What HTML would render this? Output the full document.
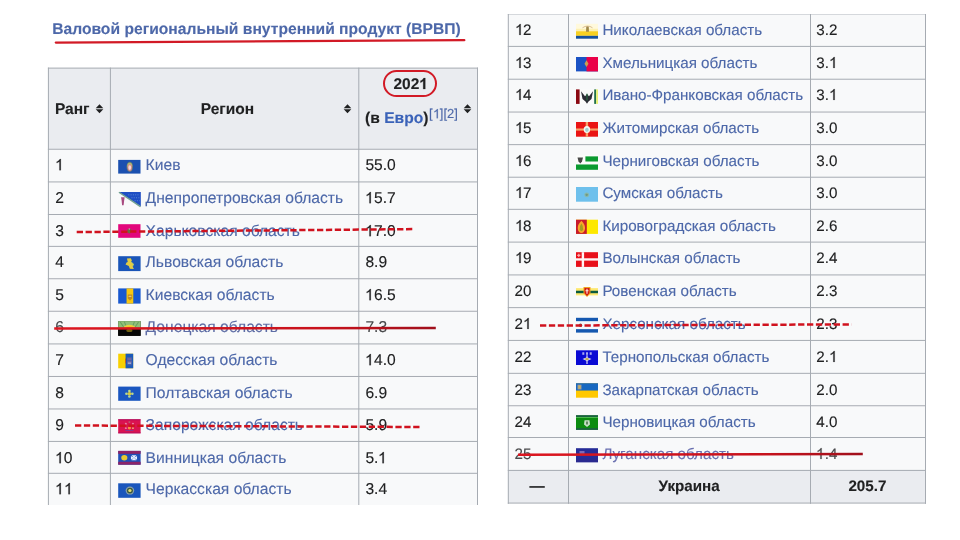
<!DOCTYPE html>
<html><head><meta charset="utf-8"><style>
html,body{margin:0;padding:0;background:#fff;}
body{width:960px;height:540px;position:relative;overflow:hidden;font-family:"Liberation Sans",sans-serif;}
body>div{position:absolute;}
.t{white-space:nowrap;text-rendering:geometricPrecision;-webkit-text-stroke:0.12px currentColor;}
.o1{width:0.5562em;height:0.7158em;vertical-align:baseline;fill:currentColor;stroke:currentColor;stroke-width:26;overflow:visible;}
#w{position:absolute;left:0;top:0;width:960px;height:540px;filter:blur(0.35px);}
#w>div{position:absolute;}
</style></head><body>
<div id="w"><div class="t" style="left:52.20px;top:20px;font-size:15.65px;line-height:19.562px;color:#4d68a9;font-weight:bold;">Валовой региональный внутренний продукт (ВРВП)</div><svg style="position:absolute;left:0;top:0" width="960" height="60"><path d="M55.8 42.6 Q260 41.9 464.3 40.2" stroke="#d21a26" stroke-width="2.3" fill="none" stroke-linecap="round"/></svg><div style="left:48px;top:68px;width:430px;height:81px;background:#eaecf0;"></div><div style="left:48px;top:149px;width:430px;height:356px;background:#f8f9fa;"></div><div class="t" style="left:54.90px;top:100px;font-size:15.5px;line-height:19.375px;color:#202122;font-weight:bold;">Ранг</div><svg style="position:absolute;left:94.7px;top:104.2px" width="9" height="10" viewBox="0 0 9 10"><path d="M4.5 0.3 L8.3 4.2 L0.7 4.2 Z M0.7 5.3 L8.3 5.3 L4.5 9.2 Z" fill="#202122"/></svg><div class="t" style="left:200.70px;top:100px;font-size:15.5px;line-height:19.375px;color:#202122;font-weight:bold;">Регион</div><svg style="position:absolute;left:342.8px;top:104.2px" width="9" height="10" viewBox="0 0 9 10"><path d="M4.5 0.3 L8.3 4.2 L0.7 4.2 Z M0.7 5.3 L8.3 5.3 L4.5 9.2 Z" fill="#202122"/></svg><div class="t" style="left:393.50px;top:75px;font-size:15.5px;line-height:19.375px;color:#202122;font-weight:bold;">202<svg class="o1" viewBox="0 -1466 1139 1466"><path transform="scale(1,-1)" d="M834 0H553V1059Q399 915 190 846V1101Q300 1137 429 1237Q558 1338 606 1466H834Z"/></svg></div><div class="t" style="left:365.00px;top:109px;font-size:15.65px;line-height:19.562px;color:#202122;font-weight:bold;">(в <span style="color:#3a62b8">Евро</span>)</div><div class="t" style="left:429.00px;top:106px;font-size:13px;line-height:16.25px;color:#4d68a9;">[<svg class="o1" viewBox="0 -1466 1139 1466"><path transform="scale(1,-1)" d="M763 0H583V1147Q518 1085 412 1023Q307 961 223 931V1105Q374 1176 487 1277Q600 1378 647 1466H763Z"/></svg>][2]</div><svg style="position:absolute;left:463.1px;top:104.2px" width="9" height="10" viewBox="0 0 9 10"><path d="M4.5 0.3 L8.3 4.2 L0.7 4.2 Z M0.7 5.3 L8.3 5.3 L4.5 9.2 Z" fill="#202122"/></svg><div style="left:382.7px;top:69.8px;width:50px;height:23px;border:2px solid #d21a26;border-radius:14px;box-sizing:content-box;"></div><div class="t" style="left:55.20px;top:156px;font-size:15.6px;line-height:19.5px;color:#202122;"><svg class="o1" viewBox="0 -1466 1139 1466"><path transform="scale(1,-1)" d="M763 0H583V1147Q518 1085 412 1023Q307 961 223 931V1105Q374 1176 487 1277Q600 1378 647 1466H763Z"/></svg></div><div class="t" style="left:145.60px;top:156px;font-size:15.65px;line-height:19.562px;color:#4d68a9;">Киев</div><div class="t" style="left:365.40px;top:156px;font-size:15.6px;line-height:19.5px;color:#202122;">55.0</div><div class="t" style="left:55.20px;top:189px;font-size:15.6px;line-height:19.5px;color:#202122;">2</div><div class="t" style="left:145.60px;top:189px;font-size:15.65px;line-height:19.562px;color:#4d68a9;">Днепропетровская область</div><div class="t" style="left:365.40px;top:189px;font-size:15.6px;line-height:19.5px;color:#202122;"><svg class="o1" viewBox="0 -1466 1139 1466"><path transform="scale(1,-1)" d="M763 0H583V1147Q518 1085 412 1023Q307 961 223 931V1105Q374 1176 487 1277Q600 1378 647 1466H763Z"/></svg>5.7</div><div class="t" style="left:55.20px;top:222px;font-size:15.6px;line-height:19.5px;color:#202122;">3</div><div class="t" style="left:145.60px;top:222px;font-size:15.65px;line-height:19.562px;color:#4d68a9;">Харьковская область</div><div class="t" style="left:365.40px;top:222px;font-size:15.6px;line-height:19.5px;color:#202122;"><svg class="o1" viewBox="0 -1466 1139 1466"><path transform="scale(1,-1)" d="M763 0H583V1147Q518 1085 412 1023Q307 961 223 931V1105Q374 1176 487 1277Q600 1378 647 1466H763Z"/></svg>7.0</div><div class="t" style="left:55.20px;top:253px;font-size:15.6px;line-height:19.5px;color:#202122;">4</div><div class="t" style="left:145.60px;top:253px;font-size:15.65px;line-height:19.562px;color:#4d68a9;">Львовская область</div><div class="t" style="left:365.40px;top:253px;font-size:15.6px;line-height:19.5px;color:#202122;">8.9</div><div class="t" style="left:55.20px;top:286px;font-size:15.6px;line-height:19.5px;color:#202122;">5</div><div class="t" style="left:145.60px;top:286px;font-size:15.65px;line-height:19.562px;color:#4d68a9;">Киевская область</div><div class="t" style="left:365.40px;top:286px;font-size:15.6px;line-height:19.5px;color:#202122;"><svg class="o1" viewBox="0 -1466 1139 1466"><path transform="scale(1,-1)" d="M763 0H583V1147Q518 1085 412 1023Q307 961 223 931V1105Q374 1176 487 1277Q600 1378 647 1466H763Z"/></svg>6.5</div><div class="t" style="left:55.20px;top:318px;font-size:15.6px;line-height:19.5px;color:#48494b;">6</div><div class="t" style="left:145.60px;top:318px;font-size:15.65px;line-height:19.562px;color:#5f6ea6;">Донецкая область</div><div class="t" style="left:365.40px;top:318px;font-size:15.6px;line-height:19.5px;color:#48494b;">7.3</div><div class="t" style="left:55.20px;top:351px;font-size:15.6px;line-height:19.5px;color:#202122;">7</div><div class="t" style="left:145.60px;top:351px;font-size:15.65px;line-height:19.562px;color:#4d68a9;">Одесская область</div><div class="t" style="left:365.40px;top:351px;font-size:15.6px;line-height:19.5px;color:#202122;"><svg class="o1" viewBox="0 -1466 1139 1466"><path transform="scale(1,-1)" d="M763 0H583V1147Q518 1085 412 1023Q307 961 223 931V1105Q374 1176 487 1277Q600 1378 647 1466H763Z"/></svg>4.0</div><div class="t" style="left:55.20px;top:384px;font-size:15.6px;line-height:19.5px;color:#202122;">8</div><div class="t" style="left:145.60px;top:384px;font-size:15.65px;line-height:19.562px;color:#4d68a9;">Полтавская область</div><div class="t" style="left:365.40px;top:384px;font-size:15.6px;line-height:19.5px;color:#202122;">6.9</div><div class="t" style="left:55.20px;top:416px;font-size:15.6px;line-height:19.5px;color:#202122;">9</div><div class="t" style="left:145.60px;top:416px;font-size:15.65px;line-height:19.562px;color:#4d68a9;">Запорожская область</div><div class="t" style="left:365.40px;top:416px;font-size:15.6px;line-height:19.5px;color:#202122;">5.9</div><div class="t" style="left:55.20px;top:449px;font-size:15.6px;line-height:19.5px;color:#202122;"><svg class="o1" viewBox="0 -1466 1139 1466"><path transform="scale(1,-1)" d="M763 0H583V1147Q518 1085 412 1023Q307 961 223 931V1105Q374 1176 487 1277Q600 1378 647 1466H763Z"/></svg>0</div><div class="t" style="left:145.60px;top:449px;font-size:15.65px;line-height:19.562px;color:#4d68a9;">Винницкая область</div><div class="t" style="left:365.40px;top:449px;font-size:15.6px;line-height:19.5px;color:#202122;">5.<svg class="o1" viewBox="0 -1466 1139 1466"><path transform="scale(1,-1)" d="M763 0H583V1147Q518 1085 412 1023Q307 961 223 931V1105Q374 1176 487 1277Q600 1378 647 1466H763Z"/></svg></div><div class="t" style="left:55.20px;top:480px;font-size:15.6px;line-height:19.5px;color:#202122;"><svg class="o1" viewBox="0 -1466 1139 1466"><path transform="scale(1,-1)" d="M763 0H583V1147Q518 1085 412 1023Q307 961 223 931V1105Q374 1176 487 1277Q600 1378 647 1466H763Z"/></svg><svg class="o1" viewBox="0 -1466 1139 1466"><path transform="scale(1,-1)" d="M763 0H583V1147Q518 1085 412 1023Q307 961 223 931V1105Q374 1176 487 1277Q600 1378 647 1466H763Z"/></svg></div><div class="t" style="left:145.60px;top:480px;font-size:15.65px;line-height:19.562px;color:#4d68a9;">Черкасская область</div><div class="t" style="left:365.40px;top:480px;font-size:15.6px;line-height:19.5px;color:#202122;">3.4</div><div style="left:508px;top:14.5px;width:418px;height:456px;background:#f8f9fa;"></div><div style="left:508px;top:470.4px;width:418px;height:33px;background:#eaecf0;"></div><div class="t" style="left:514.60px;top:21px;font-size:15.2px;line-height:19.0px;color:#202122;"><svg class="o1" viewBox="0 -1466 1139 1466"><path transform="scale(1,-1)" d="M763 0H583V1147Q518 1085 412 1023Q307 961 223 931V1105Q374 1176 487 1277Q600 1378 647 1466H763Z"/></svg>2</div><div class="t" style="left:602.40px;top:21px;font-size:15.2px;line-height:19.0px;color:#4d68a9;">Николаевская область</div><div class="t" style="left:816.30px;top:21px;font-size:15.2px;line-height:19.0px;color:#202122;">3.2</div><div class="t" style="left:514.60px;top:54px;font-size:15.2px;line-height:19.0px;color:#202122;"><svg class="o1" viewBox="0 -1466 1139 1466"><path transform="scale(1,-1)" d="M763 0H583V1147Q518 1085 412 1023Q307 961 223 931V1105Q374 1176 487 1277Q600 1378 647 1466H763Z"/></svg>3</div><div class="t" style="left:602.40px;top:54px;font-size:15.2px;line-height:19.0px;color:#4d68a9;">Хмельницкая область</div><div class="t" style="left:816.30px;top:54px;font-size:15.2px;line-height:19.0px;color:#202122;">3.<svg class="o1" viewBox="0 -1466 1139 1466"><path transform="scale(1,-1)" d="M763 0H583V1147Q518 1085 412 1023Q307 961 223 931V1105Q374 1176 487 1277Q600 1378 647 1466H763Z"/></svg></div><div class="t" style="left:514.60px;top:86px;font-size:15.2px;line-height:19.0px;color:#202122;"><svg class="o1" viewBox="0 -1466 1139 1466"><path transform="scale(1,-1)" d="M763 0H583V1147Q518 1085 412 1023Q307 961 223 931V1105Q374 1176 487 1277Q600 1378 647 1466H763Z"/></svg>4</div><div class="t" style="left:602.40px;top:86px;font-size:15.2px;line-height:19.0px;color:#4d68a9;">Ивано-Франковская область</div><div class="t" style="left:816.30px;top:86px;font-size:15.2px;line-height:19.0px;color:#202122;">3.<svg class="o1" viewBox="0 -1466 1139 1466"><path transform="scale(1,-1)" d="M763 0H583V1147Q518 1085 412 1023Q307 961 223 931V1105Q374 1176 487 1277Q600 1378 647 1466H763Z"/></svg></div><div class="t" style="left:514.60px;top:119px;font-size:15.2px;line-height:19.0px;color:#202122;"><svg class="o1" viewBox="0 -1466 1139 1466"><path transform="scale(1,-1)" d="M763 0H583V1147Q518 1085 412 1023Q307 961 223 931V1105Q374 1176 487 1277Q600 1378 647 1466H763Z"/></svg>5</div><div class="t" style="left:602.40px;top:119px;font-size:15.2px;line-height:19.0px;color:#4d68a9;">Житомирская область</div><div class="t" style="left:816.30px;top:119px;font-size:15.2px;line-height:19.0px;color:#202122;">3.0</div><div class="t" style="left:514.60px;top:152px;font-size:15.2px;line-height:19.0px;color:#202122;"><svg class="o1" viewBox="0 -1466 1139 1466"><path transform="scale(1,-1)" d="M763 0H583V1147Q518 1085 412 1023Q307 961 223 931V1105Q374 1176 487 1277Q600 1378 647 1466H763Z"/></svg>6</div><div class="t" style="left:602.40px;top:152px;font-size:15.2px;line-height:19.0px;color:#4d68a9;">Черниговская область</div><div class="t" style="left:816.30px;top:152px;font-size:15.2px;line-height:19.0px;color:#202122;">3.0</div><div class="t" style="left:514.60px;top:184px;font-size:15.2px;line-height:19.0px;color:#202122;"><svg class="o1" viewBox="0 -1466 1139 1466"><path transform="scale(1,-1)" d="M763 0H583V1147Q518 1085 412 1023Q307 961 223 931V1105Q374 1176 487 1277Q600 1378 647 1466H763Z"/></svg>7</div><div class="t" style="left:602.40px;top:184px;font-size:15.2px;line-height:19.0px;color:#4d68a9;">Сумская область</div><div class="t" style="left:816.30px;top:184px;font-size:15.2px;line-height:19.0px;color:#202122;">3.0</div><div class="t" style="left:514.60px;top:217px;font-size:15.2px;line-height:19.0px;color:#202122;"><svg class="o1" viewBox="0 -1466 1139 1466"><path transform="scale(1,-1)" d="M763 0H583V1147Q518 1085 412 1023Q307 961 223 931V1105Q374 1176 487 1277Q600 1378 647 1466H763Z"/></svg>8</div><div class="t" style="left:602.40px;top:217px;font-size:15.2px;line-height:19.0px;color:#4d68a9;">Кировоградская область</div><div class="t" style="left:816.30px;top:217px;font-size:15.2px;line-height:19.0px;color:#202122;">2.6</div><div class="t" style="left:514.60px;top:249px;font-size:15.2px;line-height:19.0px;color:#202122;"><svg class="o1" viewBox="0 -1466 1139 1466"><path transform="scale(1,-1)" d="M763 0H583V1147Q518 1085 412 1023Q307 961 223 931V1105Q374 1176 487 1277Q600 1378 647 1466H763Z"/></svg>9</div><div class="t" style="left:602.40px;top:249px;font-size:15.2px;line-height:19.0px;color:#4d68a9;">Волынская область</div><div class="t" style="left:816.30px;top:249px;font-size:15.2px;line-height:19.0px;color:#202122;">2.4</div><div class="t" style="left:514.60px;top:282px;font-size:15.2px;line-height:19.0px;color:#202122;">20</div><div class="t" style="left:602.40px;top:282px;font-size:15.2px;line-height:19.0px;color:#4d68a9;">Ровенская область</div><div class="t" style="left:816.30px;top:282px;font-size:15.2px;line-height:19.0px;color:#202122;">2.3</div><div class="t" style="left:514.60px;top:315px;font-size:15.2px;line-height:19.0px;color:#202122;">2<svg class="o1" viewBox="0 -1466 1139 1466"><path transform="scale(1,-1)" d="M763 0H583V1147Q518 1085 412 1023Q307 961 223 931V1105Q374 1176 487 1277Q600 1378 647 1466H763Z"/></svg></div><div class="t" style="left:602.40px;top:315px;font-size:15.2px;line-height:19.0px;color:#4d68a9;">Херсонская область</div><div class="t" style="left:816.30px;top:315px;font-size:15.2px;line-height:19.0px;color:#202122;">2.3</div><div class="t" style="left:514.60px;top:348px;font-size:15.2px;line-height:19.0px;color:#202122;">22</div><div class="t" style="left:602.40px;top:348px;font-size:15.2px;line-height:19.0px;color:#4d68a9;">Тернопольская область</div><div class="t" style="left:816.30px;top:348px;font-size:15.2px;line-height:19.0px;color:#202122;">2.<svg class="o1" viewBox="0 -1466 1139 1466"><path transform="scale(1,-1)" d="M763 0H583V1147Q518 1085 412 1023Q307 961 223 931V1105Q374 1176 487 1277Q600 1378 647 1466H763Z"/></svg></div><div class="t" style="left:514.60px;top:381px;font-size:15.2px;line-height:19.0px;color:#202122;">23</div><div class="t" style="left:602.40px;top:381px;font-size:15.2px;line-height:19.0px;color:#4d68a9;">Закарпатская область</div><div class="t" style="left:816.30px;top:381px;font-size:15.2px;line-height:19.0px;color:#202122;">2.0</div><div class="t" style="left:514.60px;top:413px;font-size:15.2px;line-height:19.0px;color:#202122;">24</div><div class="t" style="left:602.40px;top:413px;font-size:15.2px;line-height:19.0px;color:#4d68a9;">Черновицкая область</div><div class="t" style="left:816.30px;top:413px;font-size:15.2px;line-height:19.0px;color:#202122;">4.0</div><div class="t" style="left:514.60px;top:445px;font-size:15.2px;line-height:19.0px;color:#48494b;">25</div><div class="t" style="left:602.40px;top:445px;font-size:15.2px;line-height:19.0px;color:#6a70b0;">Луганская область</div><div class="t" style="left:816.30px;top:445px;font-size:15.2px;line-height:19.0px;color:#48494b;"><svg class="o1" viewBox="0 -1466 1139 1466"><path transform="scale(1,-1)" d="M763 0H583V1147Q518 1085 412 1023Q307 961 223 931V1105Q374 1176 487 1277Q600 1378 647 1466H763Z"/></svg>.4</div><div class="t" style="left:529.50px;top:477px;font-size:15.2px;line-height:19.0px;color:#202122;font-weight:bold;">—</div><div class="t" style="left:658.60px;top:477px;font-size:15.2px;line-height:19.0px;color:#202122;font-weight:bold;">Украина</div><div class="t" style="left:848.40px;top:477px;font-size:15.2px;line-height:19.0px;color:#202122;font-weight:bold;">205.7</div><svg style="position:absolute;left:0;top:0" width="960" height="540"><rect x="47.9" y="67.60" width="430.10" height="1" fill="#a6abb2"/><rect x="47.9" y="148.75" width="430.10" height="1" fill="#a6abb2"/><rect x="47.9" y="181.42" width="430.10" height="1" fill="#a6abb2"/><rect x="47.9" y="214.00" width="430.10" height="1" fill="#a6abb2"/><rect x="47.9" y="245.88" width="430.10" height="1" fill="#a6abb2"/><rect x="47.9" y="278.25" width="430.10" height="1" fill="#a6abb2"/><rect x="47.9" y="310.75" width="430.10" height="1" fill="#a6abb2"/><rect x="47.9" y="343.42" width="430.10" height="1" fill="#a6abb2"/><rect x="47.9" y="375.96" width="430.10" height="1" fill="#a6abb2"/><rect x="47.9" y="408.46" width="430.10" height="1" fill="#a6abb2"/><rect x="47.9" y="440.92" width="430.10" height="1" fill="#a6abb2"/><rect x="47.9" y="472.80" width="430.10" height="1" fill="#a6abb2"/><rect x="47.90" y="67.60" width="1" height="437.40" fill="#a6abb2"/><rect x="109.90" y="67.60" width="1" height="437.40" fill="#a6abb2"/><rect x="358.30" y="67.60" width="1" height="437.40" fill="#a6abb2"/><rect x="477.00" y="67.60" width="1" height="437.40" fill="#a6abb2"/><rect x="507.8" y="14.00" width="418.20" height="1" fill="#d5d8dc"/><rect x="507.8" y="45.90" width="418.20" height="1" fill="#a6abb2"/><rect x="507.8" y="78.71" width="418.20" height="1" fill="#a6abb2"/><rect x="507.8" y="111.54" width="418.20" height="1" fill="#a6abb2"/><rect x="507.8" y="144.13" width="418.20" height="1" fill="#a6abb2"/><rect x="507.8" y="176.71" width="418.20" height="1" fill="#a6abb2"/><rect x="507.8" y="208.83" width="418.20" height="1" fill="#a6abb2"/><rect x="507.8" y="241.60" width="418.20" height="1" fill="#a6abb2"/><rect x="507.8" y="274.42" width="418.20" height="1" fill="#a6abb2"/><rect x="507.8" y="307.13" width="418.20" height="1" fill="#a6abb2"/><rect x="507.8" y="339.92" width="418.20" height="1" fill="#a6abb2"/><rect x="507.8" y="372.83" width="418.20" height="1" fill="#a6abb2"/><rect x="507.8" y="405.25" width="418.20" height="1" fill="#a6abb2"/><rect x="507.8" y="437.00" width="418.20" height="1" fill="#a6abb2"/><rect x="507.8" y="469.90" width="418.20" height="1" fill="#a6abb2"/><rect x="507.8" y="502.58" width="418.20" height="1" fill="#a6abb2"/><rect x="507.80" y="14.00" width="1" height="489.80" fill="#a6abb2"/><rect x="568.00" y="14.00" width="1" height="489.80" fill="#a6abb2"/><rect x="810.00" y="14.00" width="1" height="489.80" fill="#a6abb2"/><rect x="925.00" y="14.00" width="1" height="489.80" fill="#a6abb2"/></svg><svg style="position:absolute;left:0;top:0" width="960" height="540"><g transform="translate(118.2,159.9) scale(1.0136,0.9133)"><rect width="22" height="15" fill="#1b50b0"/><ellipse cx="11.4" cy="7.6" rx="3.2" ry="5.6" fill="#6a7a78"/><ellipse cx="11.4" cy="6" rx="2.4" ry="3" fill="#a8c070"/><ellipse cx="11.4" cy="8.4" rx="2.2" ry="3.8" fill="#d88888"/><ellipse cx="11.4" cy="8.4" rx="1.3" ry="2.6" fill="#f4dcd4"/></g><g transform="translate(117.9,191.9) scale(1.0409,0.9800)"><path d="M1 0 L22 0 L22 15 Z" fill="#1f4ec4"/><path d="M10 3 L20 3 M13 6 L21 6 M16 9 L21 9" stroke="#5a8ad8" stroke-width="0.9" stroke-dasharray="1 1.2"/><path d="M1 0.3 L21.7 15" stroke="#70a090" stroke-width="1.4"/><path d="M3 5.5 L6.5 5.5 L6 9 L5.5 13.5 L4 13.5 L3.6 9 Z" fill="#a84a80"/></g><g transform="translate(118.2,224.2) scale(1.0136,0.9067)"><rect width="22" height="15" fill="#e2077c"/><ellipse cx="11" cy="7.6" rx="2.3" ry="2.6" fill="#6a6c40"/><circle cx="11" cy="5.3" r="0.8" fill="#c8a0b0"/></g><g transform="translate(118.2,256.2) scale(1.0182,0.9933)"><rect width="22" height="15" fill="#1a55b8"/><path d="M8.6 2.2 L12.4 2 L13.4 4.4 L12.6 5.8 L15 7.8 L14.2 10.4 L15.4 12.8 L11.4 12.6 L10.4 9.8 L7.2 8.4 L8.2 6.4 L9.4 5.8 Z" fill="#e2cc44"/><path d="M12.6 5.8 L15 7.8 L14.2 10.4" stroke="#b8d070" stroke-width="0.9" fill="none"/></g><g transform="translate(118.2,288.4) scale(1.0182,1.0133)"><rect width="22" height="15" fill="#1858d0"/><rect x="8.2" width="6.6" height="15" fill="#f8c610"/><path d="M9.4 6 L13.8 6 L13.8 10 L11.6 12 L9.4 10 Z" fill="#c08a20"/><path d="M10.2 7.8 L13 7.8" stroke="#f0e0a0" stroke-width="0.9"/></g><g transform="translate(118.2,321.1) scale(1.0182,0.9800)"><rect width="22" height="15" fill="#060606"/><rect width="22" height="7.8" fill="#90bf78"/><path d="M2 1 L6 7 M6 0.5 L8.5 7 M16 0.5 L13.5 7 M20 1 L16 7" stroke="#68a060" stroke-width="1"/><ellipse cx="11" cy="7" rx="6" ry="3.2" fill="#e8d040"/><ellipse cx="11" cy="7.2" rx="3.5" ry="2" fill="#ffc010"/><rect y="7.8" width="22" height="7.2" fill="#060606"/><ellipse cx="11" cy="9.5" rx="3" ry="1.6" fill="#706010"/></g><g transform="translate(118.2,353.7) scale(0.6818,0.9733)"><rect width="22" height="15" fill="#f8d000"/><rect x="10.8" width="11.2" height="15" fill="#1c5ab8"/><rect x="13" y="3.5" width="7" height="8.5" fill="#4a60a8"/><path d="M13.5 5.5 L19.5 5.5 M13.5 8.5 L19.5 8.5" stroke="#9a70a0" stroke-width="1"/><path d="M14 9.7 L19 9.7" stroke="#e0e4f0" stroke-width="1"/><rect x="10.2" y="5" width="1.2" height="5" fill="#c85020"/></g><g transform="translate(118.2,386.6) scale(1.0182,0.9467)"><rect width="22" height="15" fill="#1a56c0"/><circle cx="11" cy="4.6" r="1.3" fill="#b8d890"/><circle cx="11" cy="10.4" r="1.3" fill="#b8d890"/><circle cx="8.1" cy="7.5" r="1.3" fill="#b8d890"/><circle cx="13.9" cy="7.5" r="1.3" fill="#b8d890"/><circle cx="11" cy="7.5" r="1.9" fill="#d8c840"/></g><g transform="translate(118.2,419.3) scale(1.0182,0.9333)"><rect width="22" height="15" fill="#da1250"/><rect width="22" height="1" fill="#b01060"/><rect y="14" width="22" height="1" fill="#b01060"/><circle cx="11" cy="3" r="1" fill="#b86070"/><circle cx="7.5" cy="4.8" r="1" fill="#e880a0"/><circle cx="14.5" cy="4.8" r="1" fill="#e880a0"/><circle cx="7.5" cy="9.5" r="1" fill="#e880a0"/><circle cx="14.5" cy="9.5" r="1" fill="#e8a070"/><circle cx="11" cy="9.2" r="1.6" fill="#f89040"/><path d="M7 12 L15 12" stroke="#7040a0" stroke-width="0.8"/></g><g transform="translate(118.2,450.9) scale(1.0182,0.9200)"><rect width="22" height="15" fill="#1f50b8"/><rect width="22" height="3.2" fill="#8c2468"/><rect y="11.8" width="22" height="3.2" fill="#8c2468"/><circle cx="6" cy="7.5" r="3" fill="#e8c830"/><path d="M13 4.8 L18 4.8 L15.5 7.5 Z M13 10.2 L18 10.2 L15.5 7.5 Z M12.5 5.5 L12.5 9.5 L15.5 7.5 Z M18.5 5.5 L18.5 9.5 L15.5 7.5 Z" fill="#e8f0ff"/></g><g transform="translate(118.2,483.3) scale(1.0182,0.9667)"><rect width="22" height="15" fill="#1a56bc"/><circle cx="11.5" cy="7.5" r="4.2" fill="#8aa0a8"/><circle cx="11.5" cy="7.5" r="3" fill="#3a5840"/><circle cx="11.5" cy="7.5" r="1.6" fill="#e8e070"/></g><g transform="translate(576,23.8) scale(1.0000,0.9933)"><rect width="22" height="15" fill="#fff9dc"/><rect y="5" width="22" height="2.5" fill="#fdf0b0"/><rect y="7.5" width="22" height="4.6" fill="#f8d020"/><rect y="12.1" width="22" height="2.9" fill="#1450a0"/><path d="M10.3 2.5 L12.7 2.5 L13 8 L10 8 Z" fill="#a08848"/><path d="M6.5 4 Q11.5 0.5 16.5 4" stroke="#d8b888" stroke-width="0.9" fill="none"/></g><g transform="translate(576,57) scale(1.0000,0.9600)"><rect width="22" height="15" fill="#1a52c4"/><rect x="10.5" width="11.5" height="15" fill="#ea0048"/><path d="M10.5 3.5 L12.5 7 L10.5 10.5 L8.5 7 Z" fill="#c8a050"/></g><g transform="translate(576,89.4) scale(1.0000,0.9667)"><rect width="22" height="15" fill="#fbfbfa"/><rect width="3.6" height="15" fill="#8a0812"/><path d="M5 2 L9 7 L11 5 L13 7 L17 2 L15.5 10 L12.5 12.5 L11 14.8 L9.5 12.5 L6.5 10 Z" fill="#2c2c34"/><path d="M11 4.5 L11 11.5" stroke="#2a6040" stroke-width="1.4"/><rect x="18.2" width="2" height="15" fill="#22704a"/><rect x="20.2" width="1.8" height="15" fill="#e8f070"/></g><g transform="translate(576,122) scale(1.0000,0.9800)"><rect width="22" height="15" fill="#ea1414"/><rect x="9.7" width="2.4" height="15" fill="#f8a068"/><rect y="6.6" width="22" height="2.2" fill="#f8a068"/><ellipse cx="10.9" cy="7.7" rx="3.2" ry="3.6" fill="#f4f8f4"/><ellipse cx="10.9" cy="8" rx="1.8" ry="2.2" fill="#a0d0d0"/></g><g transform="translate(576,155) scale(1.0000,0.9867)"><rect width="22" height="15" fill="#fbfcfb"/><rect x="9.4" y="1.4" width="12.6" height="5.2" fill="#0a9a30"/><rect y="9.6" width="22" height="5.4" fill="#0a9a30"/><path d="M1.5 2.5 L7 2.5 L6 6.5 L4.3 8.5 L2.5 6.5 Z" fill="#484848"/></g><g transform="translate(576,187) scale(1.0000,0.9800)"><rect width="22" height="15" fill="#6ec0ec"/><circle cx="10.7" cy="8" r="2.4" fill="#88b8a8"/><circle cx="10.7" cy="8" r="1.2" fill="#709880"/></g><g transform="translate(576,219.7) scale(1.0000,0.9467)"><rect width="22" height="15" fill="#fde800"/><rect width="10.8" height="15" fill="#c81a2c"/><path d="M5.4 1 Q9.5 5 9 9.8 Q8.2 14 5.4 14 Q2.6 14 1.8 9.8 Q1.3 5 5.4 1 Z" fill="#f8a828"/><path d="M5.4 4 Q7.6 7 7.1 10.2 Q6.5 12.3 5.4 12.3 Q4.3 12.3 3.7 10.2 Q3.2 7 5.4 4 Z" fill="#a0a020"/></g><g transform="translate(576,252.2) scale(1.0000,0.9800)"><rect width="22" height="15" fill="#e8101a"/><rect x="5.7" width="2.4" height="15" fill="#fff4f4"/><rect y="6.2" width="22" height="2.4" fill="#fff4f4"/><path d="M2.8 1.5 L2.8 5 M1.2 3.2 L4.4 3.2" stroke="#f8b0b0" stroke-width="1.2"/></g><g transform="translate(576,283.5) scale(1.0000,1.0333)"><rect width="22" height="15" fill="#fcfcf8"/><rect y="4.5" width="22" height="7" fill="#fde870"/><rect y="7" width="22" height="2.4" fill="#0a5a40"/><path d="M7.5 3.5 L14.5 3.5 L14.5 9.5 L11 13 L7.5 9.5 Z" fill="#f0a020"/><path d="M8.5 4.3 L13.5 4.3 L13.5 9.2 L11 12 L8.5 9.2 Z" fill="#d01810"/><path d="M11 5 L11 10 M9.5 7 L12.5 7" stroke="#ffe8e0" stroke-width="1.1"/></g><g transform="translate(576,317.8) scale(1.0000,0.9867)"><rect width="22" height="15" fill="#f4f8fc"/><rect width="22" height="3.4" fill="#1558b0"/><rect y="11.5" width="22" height="3.5" fill="#1558b0"/><circle cx="4.5" cy="7.6" r="1.7" fill="#705848"/></g><g transform="translate(576,350.3) scale(1.0000,0.9800)"><rect width="22" height="15" fill="#0a0ad4"/><rect x="6.3" y="2" width="2" height="2.6" fill="#a8a8f0"/><rect x="10" y="2" width="2" height="2.6" fill="#a8a8f0"/><rect x="13.7" y="2" width="2" height="2.6" fill="#a8a8f0"/><rect x="10.1" y="5" width="1.8" height="9" fill="#9898e8"/><path d="M6.5 9 L11 7 L15.5 9 L11 11 Z" fill="#d8d8f0"/><ellipse cx="11" cy="9" rx="2" ry="1.1" fill="#c0a850"/></g><g transform="translate(576,383.2) scale(1.0000,0.9667)"><rect width="22" height="15" fill="#ffc800"/><rect width="22" height="7.6" fill="#1868c0"/><rect x="1.5" y="1.5" width="4" height="5" fill="#9898a0"/><rect x="2.3" y="2.3" width="2.4" height="3.4" fill="#c8b060"/></g><g transform="translate(576,415.3) scale(1.0000,0.9667)"><rect width="22" height="15" fill="#0c8c10"/><rect width="22" height="1.6" fill="#1e5a48"/><rect y="2" width="22" height="0.8" fill="#60c860"/><rect y="13.4" width="22" height="1.6" fill="#1e5a48"/><path d="M8.5 5 L13.5 5 L14 9.5 L11 12 L8 9.5 Z" fill="#c8e0c8"/><path d="M10 6.5 L12 6.5 L12 9.5 L10 9.5 Z" fill="#608860"/></g><g transform="translate(576,448.2) scale(1.0000,0.9333)"><rect width="22" height="15" fill="#262c98"/><rect x="3.5" y="3" width="5" height="3" fill="#7a6ab8"/><rect y="11.5" width="22" height="3.5" fill="#2a2a90"/></g></svg><svg style="position:absolute;left:0;top:0" width="960" height="540"><path d="M76.7 232.1 L413.1 229.1" stroke="#d0121e" stroke-width="2.5" stroke-dasharray="6.3 2.6" fill="none"/><linearGradient id="g1" gradientUnits="userSpaceOnUse" x1="54.2" y1="0" x2="435.8" y2="0"><stop offset="0" stop-color="#dc1620"/><stop offset="0.7" stop-color="#c8121c"/><stop offset="1" stop-color="#a0101c"/></linearGradient><path d="M54.2 328.6 L435.8 328.0" stroke="url(#g1)" stroke-width="2.5" fill="none"/><path d="M75 425.5 L421.3 427" stroke="#d0121e" stroke-width="2.5" stroke-dasharray="6.3 2.6" fill="none"/><path d="M540 325.6 L851.6 324.4" stroke="#d0121e" stroke-width="2.5" stroke-dasharray="6.3 2.6" fill="none"/><linearGradient id="g2" gradientUnits="userSpaceOnUse" x1="518" y1="0" x2="862.8" y2="0"><stop offset="0" stop-color="#dc1620"/><stop offset="0.7" stop-color="#c8121c"/><stop offset="1" stop-color="#a0101c"/></linearGradient><path d="M518 454.8 L862.8 453.9" stroke="url(#g2)" stroke-width="2.5" fill="none"/></svg></div>
</body></html>
